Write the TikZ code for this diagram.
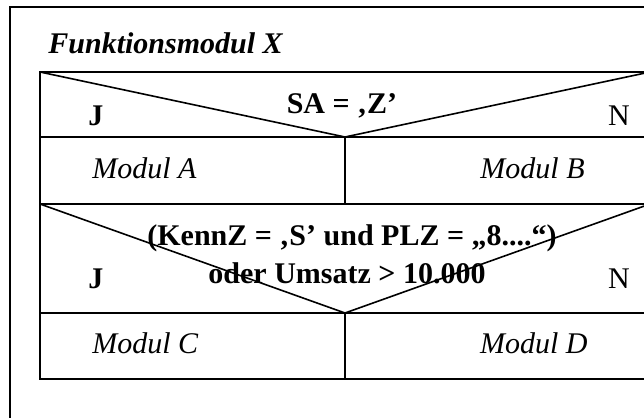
\documentclass[tikz,border=0pt]{standalone}
\usepackage{fontspec}
\setmainfont{Liberation Serif}

\begin{document}
\begin{tikzpicture}[x=0.5pt,y=-0.5pt,
	frame/.style={line width=1.3pt},
	struct/.style={line width=0.8pt},
	txt/.style={font=\fontsize{15}{19}\selectfont, inner sep=0pt, anchor=base}]
	\clip (0,0) rectangle (644,418);

	% corners of the structogram
	\coordinate (tl) at (40,72);
	\coordinate (tr) at (650,72);
	\coordinate (apex1) at (345,137);
	\coordinate (apex2) at (345,313);
	\coordinate (bl) at (40,379);
	\coordinate (br) at (650,379);

	\draw[frame] (10,7) rectangle (690,460);

	\draw[struct] (tl) rectangle (br);
	\draw[struct] (40,137) -- (650,137);
	\draw[struct] (40,204) -- (650,204);
	\draw[struct] (40,313) -- (650,313);
	\draw[struct] (tl) -- (apex1) -- (tr);
	\draw[struct] (40,204) -- (apex2) -- (650,204);
	\draw[struct] (apex1) -- (345,204);
	\draw[struct] (apex2) -- (345,379);

	\begin{scope}[every node/.style={txt}]
	\node[anchor=base west, font=\fontsize{15}{19}\selectfont\bfseries\itshape] (title) at (48,53) {Funktionsmodul X};

	\node[font=\fontsize{15}{19}\selectfont\bfseries] (cond1) at (342,113) {SA = ‚Z’};
	\node[font=\fontsize{15}{19}\selectfont\bfseries] (yes1) at (96,125) {J};
	\node (no1) at (619,125) {N};

	\node[anchor=base west, font=\fontsize{15}{19}\selectfont\itshape] (modA) at (92,178) {Modul A};
	\node[anchor=base east, font=\fontsize{15}{19}\selectfont\itshape] (modB) at (585,178) {Modul B};

	\node[font=\fontsize{15}{19}\selectfont\bfseries] (cond2a) at (352,245) {(KennZ = ‚S’ und PLZ = „8....“)};
	\node[font=\fontsize{15}{19}\selectfont\bfseries] (cond2b) at (347,283) {oder Umsatz > 10.000};
	\node[font=\fontsize{15}{19}\selectfont\bfseries] (yes2) at (96,288) {J};
	\node (no2) at (619,288) {N};

	\node[anchor=base west, font=\fontsize{15}{19}\selectfont\itshape] (modC) at (92,353) {Modul C};
	\node[anchor=base east, font=\fontsize{15}{19}\selectfont\itshape] (modD) at (588,353) {Modul D};
	\end{scope}

\end{tikzpicture}
\end{document}
